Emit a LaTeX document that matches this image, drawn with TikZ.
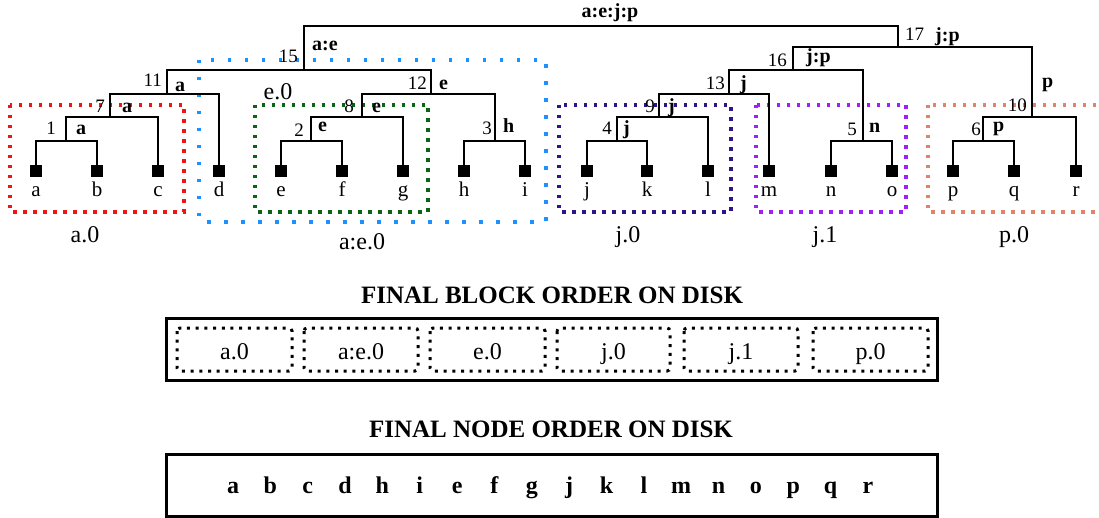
\documentclass[tikz,border=0pt]{standalone}
\usepackage{fontspec}
\setmainfont{Liberation Serif}
\definecolor{cred}{RGB}{240,20,20}
\definecolor{cblue}{RGB}{30,144,255}
\definecolor{cgreen}{RGB}{10,100,20}
\definecolor{cindigo}{RGB}{45,20,140}
\definecolor{cpurple}{RGB}{160,30,250}
\definecolor{csalmon}{RGB}{225,130,105}
\begin{document}
\begin{tikzpicture}[x=1pt,y=-1pt,
  leaf/.style={fill=black,draw=none,minimum size=12pt,inner sep=0pt},
  edge/.style={line width=1.8pt},
  num/.style={font=\fontsize{19}{21}\selectfont,anchor=base east,inner sep=0pt},
  lab/.style={font=\fontsize{20}{22}\selectfont\bfseries,anchor=base west,inner sep=0pt},
  leaflab/.style={font=\fontsize{21}{23}\selectfont,anchor=base,inner sep=0pt},
  blk/.style={font=\fontsize{24}{26}\selectfont,anchor=base,inner sep=0pt},
  grp/.style={line width=3.5pt,dash pattern=on 3.5pt off 6.5pt},
  grpwide/.style={line width=3.5pt,dash pattern=on 3.5pt off 13.5pt},
  diskblk/.style={line width=3pt,dash pattern=on 3pt off 5.7pt,rounded corners=3pt},
  ttl/.style={font=\fontsize{25}{27}\selectfont\bfseries,anchor=base,inner sep=0pt},
  ord/.style={font=\fontsize{24}{26}\selectfont\bfseries,anchor=base,inner sep=0pt}]
\useasboundingbox (0,0) rectangle (1099,518);

% group boxes
\draw[grp,cred] (10,105) rectangle (184,212);
\draw[grpwide,cblue] (199,60) rectangle (546,222);
\draw[grp,cgreen] (255,105) rectangle (428,212);
\draw[grp,cindigo] (559,105) rectangle (731,212);
\draw[grp,cpurple] (756,105) rectangle (906,212);
\draw[grp,csalmon] (928,105) rectangle (1120,212);

% leaves
\foreach \n/\x in {a/36,b/97,c/158,d/219,e/281,f/342,g/403,h/464,i/525,
                   j/587,k/647,l/708,m/769,n/831,o/892,p/953,q/1014,r/1076}{
  \node[leaf] (\n) at (\x,171) {};
  \node[leaflab] (l\n) at (\x,197) {\n};
}

% internal node junctions
\coordinate (n1) at (66,141);
\coordinate (n7) at (110,117);
\coordinate (n11) at (167,94);
\coordinate (n15) at (304,70);
\coordinate (n2) at (311,141);
\coordinate (n8) at (362,117);
\coordinate (n3) at (495,141);
\coordinate (n12) at (431,94);
\coordinate (n4) at (617,141);
\coordinate (n9) at (659,117);
\coordinate (n13) at (729,94);
\coordinate (n5) at (863,141);
\coordinate (n16) at (793,70);
\coordinate (n6) at (983,141);
\coordinate (n10) at (1032,117);
\coordinate (n17) at (898,47);
\coordinate (root) at (601,26);

% connectors
\draw[edge] (a.north) |- (n1);  \draw[edge] (b.north) |- (n1);
\draw[edge] (n1) |- (n7);       \draw[edge] (c.north) |- (n7);
\draw[edge] (n7) |- (n11);      \draw[edge] (d.north) |- (n11);
\draw[edge] (n11) |- (n15);     \draw[edge] (n12) |- (n15);
\draw[edge] (e.north) |- (n2);  \draw[edge] (f.north) |- (n2);
\draw[edge] (n2) |- (n8);       \draw[edge] (g.north) |- (n8);
\draw[edge] (h.north) |- (n3);  \draw[edge] (i.north) |- (n3);
\draw[edge] (n8) |- (n12);      \draw[edge] (n3) |- (n12);
\draw[edge] (j.north) |- (n4);  \draw[edge] (k.north) |- (n4);
\draw[edge] (n4) |- (n9);       \draw[edge] (l.north) |- (n9);
\draw[edge] (n9) |- (n13);      \draw[edge] (m.north) |- (n13);
\draw[edge] (n.north) |- (n5);  \draw[edge] (o.north) |- (n5);
\draw[edge] (n13) |- (n16);     \draw[edge] (n5) |- (n16);
\draw[edge] (p.north) |- (n6);  \draw[edge] (q.north) |- (n6);
\draw[edge] (n6) |- (n10);      \draw[edge] (r.north) |- (n10);
\draw[edge] (n16) |- (n17);     \draw[edge] (n10) |- (n17);
\draw[edge] (n15) |- (root);    \draw[edge] (n17) |- (root);

% node numbers
\node[num] (t1) at (56,135) {1};
\node[num] (t7) at (105,113) {7};
\node[num] (t11) at (162,87) {11};
\node[num] (t15) at (298,63) {15};
\node[num] (t2) at (304,137) {2};
\node[num] (t8) at (354,113) {8};
\node[num] (t12) at (427,90) {12};
\node[num] (t3) at (492,135) {3};
\node[num] (t4) at (612,135) {4};
\node[num] (t9) at (655,113) {9};
\node[num] (t13) at (725,90) {13};
\node[num] (t16) at (787,67) {16};
\node[num,anchor=base west] (t17) at (905,41) {17};
\node[num] (t5) at (857,136) {5};
\node[num] (t10) at (1027,112) {10};
\node[num] (t6) at (981,136) {6};

% bold labels
\node[lab] (b1) at (76,135) {a};
\node[lab] (b7) at (122,113) {a};
\node[lab] (b11) at (175,92) {a};
\node[lab] (b15) at (312,51) {a:e};
\node[lab] (b2) at (318,132) {e};
\node[lab] (b8) at (372,113) {e};
\node[lab] (b12) at (439,90) {e};
\node[lab] (b3) at (503,133) {h};
\node[lab] (b4) at (623,135) {j};
\node[lab] (b9) at (668,113) {j};
\node[lab] (b13) at (740,90) {j};
\node[lab] (b16) at (806,63) {j:p};
\node[lab] (b17) at (935,42) {j:p};
\node[lab] (b5) at (869,133) {n};
\node[lab] (b10) at (1042,88) {p};
\node[lab] (b6) at (993,132) {p};
\node[lab,anchor=base] (broot) at (610,18) {a:e:j:p};

% group labels
\node[blk] (ga0) at (85,243) {a.0};
\node[blk] (ge0) at (278,100) {e.0};
\node[blk] (gae0) at (362,250) {a:e.0};
\node[blk] (gj0) at (628,243) {j.0};
\node[blk] (gj1) at (825,243) {j.1};
\node[blk] (gp0) at (1014,243) {p.0};

% final block order
\node[ttl] (title1) at (552,303) {FINAL BLOCK ORDER ON DISK};
\draw[line width=3pt] (166,318) rectangle (937,380);
\foreach \xa/\xb/\t in {177/292/a.0,304/418/a:e.0,430/545/e.0,557/670/j.0,684/798/j.1,813/928/p.0}{
  \draw[diskblk] (\xa,328) rectangle (\xb,371);
  \node[blk] at ({(\xa+\xb)/2},359) {\t};
}

% final node order
\node[ttl] (title2) at (551,437) {FINAL NODE ORDER ON DISK};
\draw[line width=3pt] (166,454) rectangle (937,516);
\foreach \t [count=\i from 0] in {a,b,c,d,h,i,e,f,g,j,k,l,m,n,o,p,q,r}{
  \node[ord] at ({233+37.35*\i},493) {\t};
}
\end{tikzpicture}
\end{document}
